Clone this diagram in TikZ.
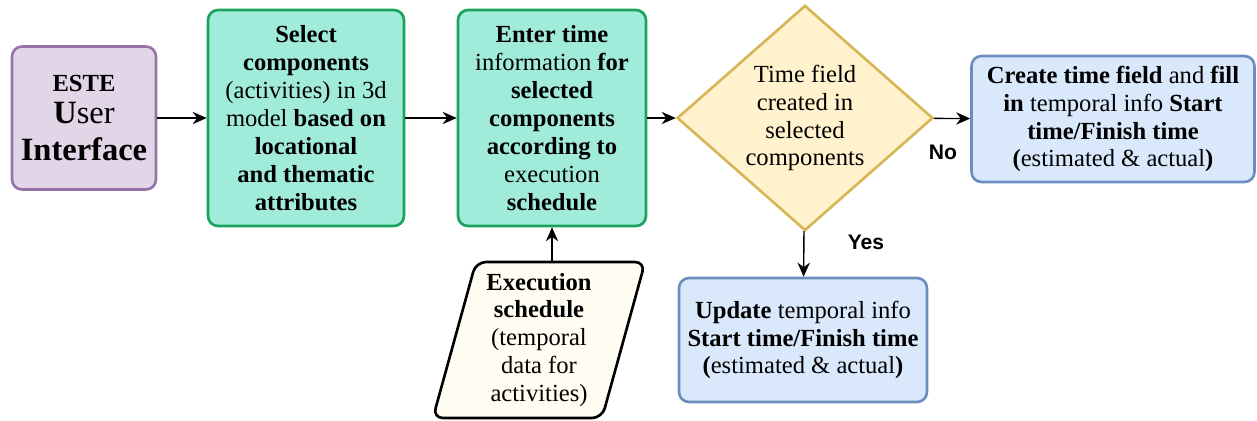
\documentclass[tikz,border=0pt]{standalone}
\usepackage{fontspec}
\setmainfont{Liberation Serif}
\setsansfont{Liberation Sans}
\usetikzlibrary{arrows.meta,shapes.geometric}
\definecolor{purplefill}{HTML}{E1D5E7}
\definecolor{purpleline}{HTML}{9673A6}
\definecolor{greenfill}{HTML}{A0EBD9}
\definecolor{greenline}{HTML}{1AA35A}
\definecolor{yellowfill}{HTML}{FFF2CC}
\definecolor{yellowline}{HTML}{D6B656}
\definecolor{bluefill}{HTML}{DAE8FC}
\definecolor{blueline}{HTML}{6C8EBF}
\definecolor{paperfill}{HTML}{FFFCF2}
\begin{document}
\begin{tikzpicture}[x=0.02cm,y=-0.02cm,
  box/.style={draw=#1,line width=1.5pt,rounded corners=0.2cm,align=center,inner sep=2pt,
    font=\fontsize{14}{15.9}\selectfont},
  flow/.style={-{Stealth[length=8pt,width=7pt]},line width=0.8pt},
  answer/.style={font=\sffamily\bfseries\fontsize{12}{14}\selectfont}]
\useasboundingbox (0,0) rectangle (1257,420);
\node[box=purpleline,fill=purplefill,minimum width=2.88cm,minimum height=2.86cm,
  font=\fontsize{18.5}{21}\selectfont] (este) at (84,118)
  {{\bfseries\fontsize{14}{16}\selectfont ESTE}\\[-3pt]
   \textbf{U}ser\\
   \textbf{Interface}};
\node[box=greenline,fill=greenfill,minimum width=3.92cm,minimum height=4.32cm] (select) at (306,118)
  {\textbf{Select}\\ \textbf{components}\\ (activities) in 3d\\ model \textbf{based on}\\
   \textbf{locational}\\ \textbf{and thematic}\\ \textbf{attributes}};
\node[box=greenline,fill=greenfill,minimum width=3.76cm,minimum height=4.32cm] (enter) at (552,118)
  {\textbf{Enter time}\\ information \textbf{for}\\ \textbf{selected}\\ \textbf{components}\\
   \textbf{according to}\\ execution\\ \textbf{schedule}};
\node[diamond,draw=yellowline,fill=yellowfill,line width=1.5pt,align=center,inner sep=0pt,
  minimum width=5.12cm,minimum height=4.34cm,font=\fontsize{14}{15.9}\selectfont] (check) at (805,118)
  {Time field\\ created in\\ selected\\ components};
\node[box=blueline,fill=bluefill,minimum width=5.66cm,minimum height=2.52cm] (create) at (1113,119)
  {\textbf{Create time field} and \textbf{fill}\\ \textbf{in} temporal info \textbf{Start}\\
   \textbf{time/Finish time}\\ \textbf{(}estimated \& actual\textbf{)}};
\node[box=blueline,fill=bluefill,minimum width=4.96cm,minimum height=2.48cm] (update) at (803,340)
  {\textbf{Update} temporal info\\ \textbf{Start time/Finish time}\\ \textbf{(}estimated \& actual\textbf{)}};
\node[trapezium,trapezium left angle=75,trapezium right angle=105,trapezium stretches=true,
  draw=black,fill=paperfill,line width=1.5pt,rounded corners=0.2cm,align=center,inner sep=0pt,
  minimum width=4.26cm,minimum height=3.12cm,font=\fontsize{14}{15.9}\selectfont] (exec) at (539,340)
  {\textbf{Execution}\\ \textbf{schedule}\\ (temporal\\ data for\\ activities)};
\draw[flow] (este) -- (select);
\draw[flow] (select) -- (enter);
\draw[flow] (enter) -- (check);
\draw[flow] (check) -- (create);
\draw[flow] (check) -- (update);
\draw[flow] (enter.south |- exec.north) -- (enter.south);
\node[answer] (no) at (943,152) {No};
\node[answer] (yes) at (866,242) {Yes};
\end{tikzpicture}
\end{document}
